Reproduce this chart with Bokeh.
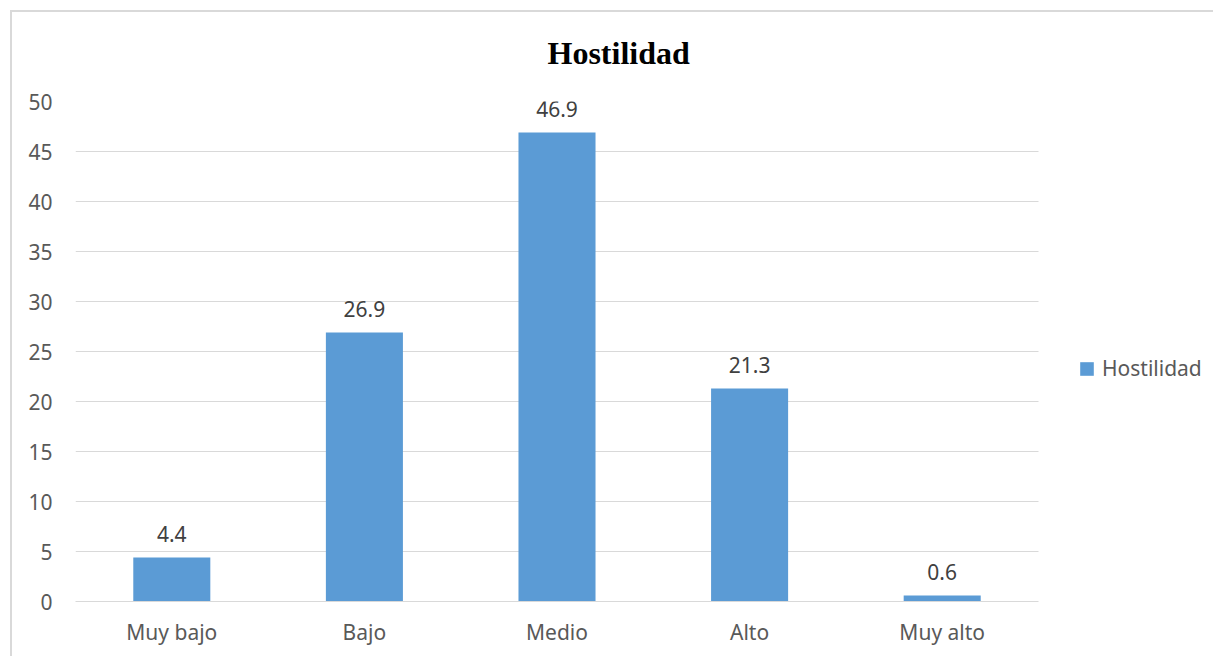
from bokeh.plotting import figure
from bokeh.models import (ColumnDataSource, Range1d, LabelSet, Legend, LegendItem, FixedTicker)
from bokeh.embed import file_html
from bokeh.resources import INLINE
from bokeh.core.properties import value

categories = ["Muy bajo", "Bajo", "Medio", "Alto", "Muy alto"]
values = [4.4, 26.9, 46.9, 21.3, 0.6]
labels = ["4.4", "26.9", "46.9", "21.3", "0.6"]
y_ticks = [0, 5, 10, 15, 20, 25, 30, 35, 40, 45, 50]
series_name = "Hostilidad"
title_text = "Hostilidad"

FONT = "Noto Sans"
BLUE = "#5b9bd5"
GRID = "#d9d9d9"

# category slots on a numeric axis (slot i is centred at i + 0.5)
n = len(categories)
xpos = [i + 0.5 for i in range(n)]
src = ColumnDataSource(dict(x=xpos, cat=categories, val=values, lab=labels))

# the frame also holds the legend area to the right of the last category
p = figure(x_range=Range1d(0, n + 175 / 192.6), y_range=Range1d(0, 50), width=1213, height=656,
           output_backend="svg", toolbar_location=None,
           min_border_left=75, min_border_right=0, min_border_top=101, min_border_bottom=55)
p.outline_line_color = None
p.background_fill_color = "white"
p.border_fill_alpha = 0
p.styles = {
    "background": ("linear-gradient(#d9d9d9,#d9d9d9) 10px 10px / 2px 100% no-repeat, "
                   "linear-gradient(#d9d9d9,#d9d9d9) 10px 10px / 100% 2px no-repeat, white"),
}

# title
p.title.text = title_text
p.title.align = "left"
p.title.offset = 472
p.title.standoff = 62
p.title.text_font = "Liberation Serif"
p.title.text_font_size = "32px"
p.title.text_font_style = "bold"
p.title.text_color = "black"

r = p.vbar(x="x", top="val", width=0.4, source=src, fill_color=BLUE, line_color=None)

p.yaxis.ticker = FixedTicker(ticks=y_ticks)
p.yaxis.axis_line_color = None
p.yaxis.major_tick_line_color = None
p.yaxis.minor_tick_line_color = None
p.yaxis.major_label_standoff = 17

p.xaxis.ticker = FixedTicker(ticks=xpos)
p.xaxis.major_label_overrides = {x: c for x, c in zip(xpos, categories)}
p.xaxis.bounds = (0, n)
p.xaxis.axis_line_color = GRID
p.xaxis.major_tick_line_color = None
p.xaxis.minor_tick_line_color = None
p.xaxis.major_label_standoff = 10
for ax in (p.xaxis, p.yaxis):
    ax.major_label_text_font = FONT
    ax.major_label_text_font_size = "21px"
    ax.major_label_text_color = "#595959"

p.xgrid.grid_line_color = None
p.ygrid.grid_line_color = GRID
p.ygrid.grid_line_width = 1
p.ygrid.cross_bounds = (0, n)

ls = LabelSet(x="x", y="val", text="lab", source=src, y_offset=16,
              text_align="center", text_baseline="alphabetic",
              text_font=value(FONT), text_font_size="21px", text_color="#404040")
p.add_layout(ls)

legend = Legend(items=[LegendItem(label=series_name, renderers=[r])],
                location=(1003, 219), padding=0, margin=0, border_line_color=None,
                background_fill_alpha=0, glyph_width=17, glyph_height=17,
                label_standoff=7, label_text_font=FONT, label_text_font_size="21px",
                label_text_color="#595959")
p.add_layout(legend, "center")

open("out.html", "w").write(file_html(p, INLINE))
